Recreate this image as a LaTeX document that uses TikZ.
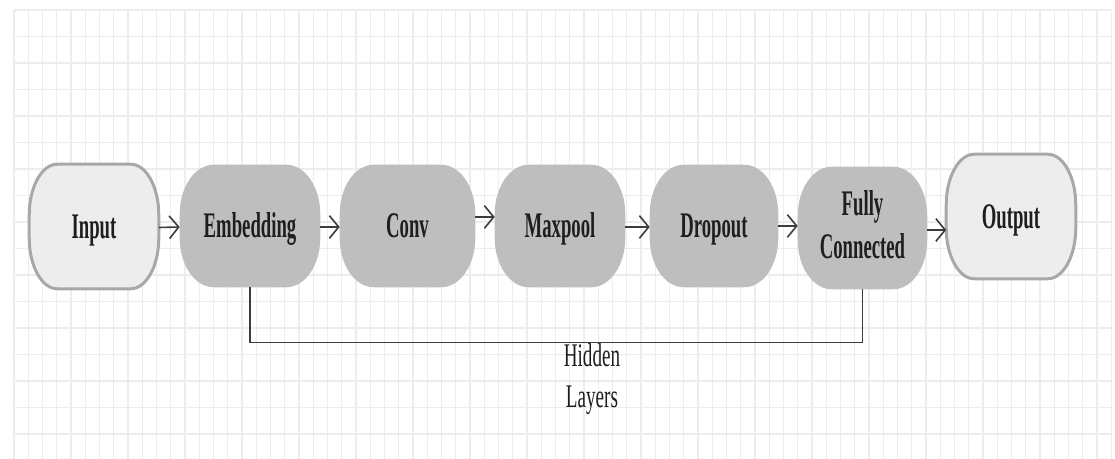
\documentclass[tikz,border=0pt]{standalone}
\usepackage{fontspec}
\setmainfont{Liberation Serif}
\usetikzlibrary{arrows.meta,calc,backgrounds}

\definecolor{gridline}{HTML}{EDEDED}
\definecolor{layerfill}{HTML}{BEBEBE}
\definecolor{endfill}{HTML}{EDEDED}
\definecolor{endedge}{HTML}{A8A8A8}
\definecolor{ink}{HTML}{1E1E1E}
\definecolor{wire}{HTML}{3C3C3C}

% condensed lettering
\newcommand\narrow[2]{\scalebox{#1}[1]{#2}}
\newcommand\boxfont{\fontsize{27}{32.25}\selectfont\bfseries}
\newcommand\notefont{\fontsize{24.75}{30.75}\selectfont}

% rectangle with elliptical corners around a named node
% #1 node, #2 x radius, #3 y radius, #4 path style
\newcommand\softbox[4]{%
  \path[#4] ($(#1.north west)+(#2,0)$) -- ($(#1.north east)-(#2,0)$)
    arc[start angle=90,end angle=0,x radius=#2,y radius=#3]
    -- ($(#1.south east)+(0,#3)$)
    arc[start angle=0,end angle=-90,x radius=#2,y radius=#3]
    -- ($(#1.south west)+(#2,0)$)
    arc[start angle=270,end angle=180,x radius=#2,y radius=#3]
    -- ($(#1.north west)-(0,#3)$)
    arc[start angle=180,end angle=90,x radius=#2,y radius=#3]
    -- cycle;}

\tikzset{
  gridrule/.style={draw=gridline, line width=0.9pt},
  hiddenbox/.style={minimum width=#1, minimum height=91.5pt, inner sep=0pt,
    font=\boxfont, text=ink},
  endbox/.style={minimum width=#1, minimum height=93pt, inner sep=0pt,
    font=\boxfont, text=ink},
  oneline/.style={text height=18pt, text depth=0pt},
  flow/.style={draw=wire, line width=1.2pt,
    -{Straight Barb[length=7pt,width=17pt]}},
  bracket/.style={draw=wire, line width=1pt},
  layerpaint/.style={fill=layerfill},
  endpaint/.style={fill=endfill, draw=endedge, line width=2.25pt},
}

\begin{document}
\begin{tikzpicture}[x=0.75pt,y=0.75pt]
  \path[use as bounding box] (0,0) rectangle (1115,459);

  % pipeline stages
  \node[endbox=96.75pt, oneline]    (inp)  at (94,232.5)   {\narrow{0.52}{Input}};
  \node[hiddenbox=105pt, oneline]   (emb)  at (250,233)    {\narrow{0.52}{Embedding}};
  \node[hiddenbox=101.25pt, oneline](conv) at (407.5,233)  {\narrow{0.52}{Conv}};
  \node[hiddenbox=97.5pt, oneline]  (maxp) at (560,233)    {\narrow{0.52}{Maxpool}};
  \node[hiddenbox=96pt, oneline]    (drop) at (714,233)    {\narrow{0.52}{Dropout}};
  \node[hiddenbox=96.75pt]          (fc)   at (862.5,231)  {\narrow{0.52}{\begin{tabular}{@{}c@{}}Fully\\Connected\end{tabular}}};
  \node[endbox=96.75pt, oneline]    (out)  at (1011,242.5) {\narrow{0.52}{Output}};

  \begin{scope}[on background layer]
    \fill[white] (0,0) rectangle (1115,459);
    % drawing-paper grid
    \foreach \k in {0,...,77}
      {\draw[gridrule] ({14+14.25*\k},0) -- ({14+14.25*\k},449);}
    \foreach \k in {0,...,16}
      {\draw[gridrule] (14,{449-26.5*\k}) -- (1111,{449-26.5*\k});}
    % stage outlines
    \softbox{inp}{21pt}{38pt}{endpaint}
    \softbox{out}{21pt}{38pt}{endpaint}
    \foreach \n in {emb,conv,maxp,drop,fc}
      {\softbox{\n}{25.5pt}{37pt}{layerpaint}}
  \end{scope}

  % data flow
  \draw[flow] ([yshift=-0.75pt]inp.east) -- ([yshift=-0.75pt]emb.west);
  \draw[flow] ([yshift=-0.75pt]emb.east) -- ([yshift=-0.75pt]conv.west);
  \draw[flow] ([yshift=6.75pt]conv.east) -- ([yshift=6.75pt]maxp.west);
  \draw[flow] ([yshift=-0.75pt]maxp.east) -- ([yshift=-0.75pt]drop.west);
  \draw[flow] (drop.east) -- (drop.east -| fc.west);
  \draw[flow] ([yshift=-1.5pt]fc.east) -- ([yshift=-1.5pt]fc.east -| out.west);

  % hidden-layer span
  \draw[bracket] (emb.south) -- ++(0,-55) -| (fc.south);
  \node[font=\notefont, text=ink, inner sep=0pt] (hid) at (592,80.5)
    {\narrow{0.58}{\begin{tabular}{@{}c@{}}Hidden\\Layers\end{tabular}}};
\end{tikzpicture}
\end{document}
